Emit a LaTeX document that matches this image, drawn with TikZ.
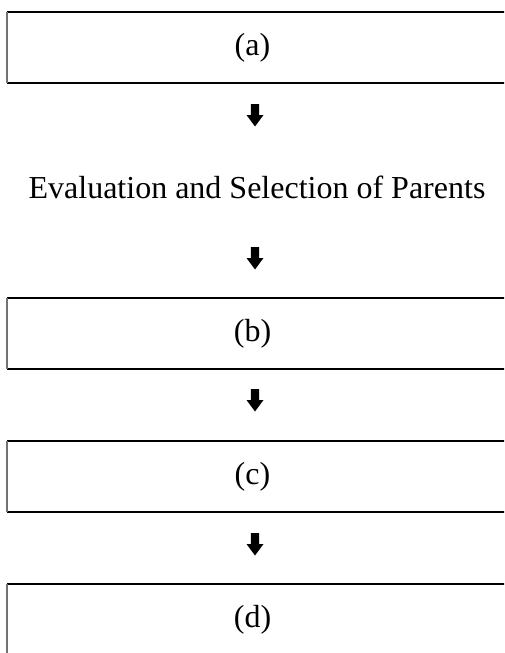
\documentclass[tikz,border=0pt]{standalone}
\usepackage{fontspec}
\setmainfont{Liberation Serif}
\tikzset{
  rulebox/.style={minimum width=491pt, minimum height=71pt, inner sep=0pt,
                  font=\fontsize{32}{38}\selectfont},
  plaintext/.style={inner sep=0pt, anchor=base, font=\fontsize{32}{38}\selectfont},
  hline/.style={line width=2.4pt, black},
  vline/.style={line width=1.4pt, black!55},
  blockarrow/.pic={\fill[black] (-4.2,0) -- (4.2,0) -- (4.2,11) -- (8.5,11)
                   -- (0,22.5) -- (-8.5,11) -- (-4.2,11) -- cycle;}
}
\begin{document}
\begin{tikzpicture}[x=1pt, y=-1pt]
  \useasboundingbox (0,0) rectangle (504,653);
  \clip (0,0) rectangle (504,653);
  \coordinate (R) at (530,0);
  % boxes
  \node[rulebox] (a) at (252.5,47.5) {(a)};
  \node[plaintext] (t) at (257,198) {Evaluation and Selection of Parents};
  \node[rulebox] (b) at (252.5,333.5) {(b)};
  \node[rulebox] (c) at (252.5,476.5) {(c)};
  \node[rulebox] (d) at (252.5,619.5) {(d)};
  \foreach \n in {a,b,c,d}{
    \draw[hline] (\n.north west) -- (\n.north west -| R);
    \draw[hline] (\n.south west) -- (\n.south west -| R);
    \draw[vline] (\n.north west) -- (\n.south west);
  }
  % block arrows
  \pic at (255,104) {blockarrow};
  \pic at (255,247) {blockarrow};
  \pic at (255,389) {blockarrow};
  \pic at (255,533) {blockarrow};
\end{tikzpicture}
\end{document}
